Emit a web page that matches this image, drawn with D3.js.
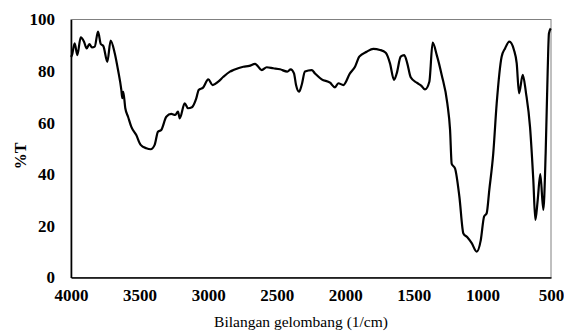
<!DOCTYPE html>
<html>
<head>
<meta charset="utf-8">
<script src="https://cdn.jsdelivr.net/npm/d3@7"></script>
<style>
  body { margin: 0; background: #fff; }
  svg { display: block; }
  svg text { font-family: "Liberation Serif", "Times New Roman", serif; fill: #000; }
</style>
</head>
<body>
<svg id="chart"></svg>
<script>
// FTIR spectrum
const wavenumber = [3999, 3993, 3973, 3954, 3929, 3905, 3886, 3866, 3847, 3827, 3803, 3783, 3764, 3735, 3711,
  3681, 3657, 3633, 3626, 3619, 3604, 3584, 3560, 3524, 3492, 3451, 3419, 3390, 3366, 3342, 3305, 3269,
  3240, 3220, 3207, 3171, 3147, 3118, 3086, 3069, 3037, 2999, 2967, 2926, 2889, 2841, 2816, 2744, 2700,
  2658, 2609, 2573, 2525, 2476, 2423, 2398, 2374, 2359, 2337, 2318, 2294, 2245, 2221, 2172, 2111, 2075,
  2051, 2014, 1966, 1929, 1898, 1844, 1796, 1747, 1705, 1674, 1645, 1625, 1596, 1570, 1548, 1523, 1479,
  1443, 1419, 1387, 1363, 1333, 1297, 1256, 1236, 1224, 1200, 1168, 1139, 1110, 1078, 1042, 1012, 988,
  969, 950, 921, 896, 860, 835, 804, 770, 750, 733, 706, 682, 653, 629, 614, 597, 578, 556, 539, 524, 515, 502];
const transmittance = [85.5, 86.2, 90.8, 86.2, 93.1, 91.4, 88.8, 90.5, 89.2, 89.5, 95.3, 90.5, 89.7, 83.6, 91.8,
  86.9, 80.4, 72.7, 69.5, 72.0, 65.6, 62.3, 58.4, 55.2, 51.4, 50.1, 49.7, 51.4, 56.5, 57.2, 62.3, 63.4,
  63.0, 64.3, 61.7, 67.5, 65.6, 66.0, 69.5, 72.7, 73.6, 76.8, 74.6, 75.9, 77.8, 79.8, 80.4, 81.7, 82.0,
  82.8, 80.4, 81.5, 81.1, 80.7, 79.8, 80.7, 79.1, 74.6, 72.0, 74.6, 79.8, 80.4, 79.1, 76.8, 75.5, 73.7,
  75.3, 74.6, 79.1, 81.7, 85.6, 87.5, 88.6, 88.2, 87.1, 83.0, 76.6, 79.1, 85.6, 86.2, 83.0, 77.6, 75.5,
  74.2, 72.9, 75.9, 91.0, 86.2, 78.5, 67.5, 57.2, 44.0, 42.3, 31.3, 17.1, 15.6, 13.3, 10.0, 14.5, 23.6,
  24.9, 33.9, 48.1, 67.5, 85.6, 88.8, 91.4, 88.2, 83.0, 71.4, 78.5, 71.4, 58.4, 37.8, 22.3, 30.0, 40.1, 26.2, 48.1, 80.4, 94.6, 96.6];
const xTicks = [4000, 3500, 3000, 2500, 2000, 1500, 1000, 500];
const yTicks = [0, 20, 40, 60, 80, 100];
const xTitle = "Bilangan gelombang (1/cm)";
const yTitle = "%T";

const W = 564, H = 332;
const m = { left: 71, right: 13, top: 19.5, bottom: 54.5 };

const svg = d3.select("#chart").attr("width", W).attr("height", H);

const x = d3.scaleLinear().domain([4000, 500]).range([m.left, W - m.right]);
const y = d3.scaleLinear().domain([0, 100]).range([H - m.bottom, m.top]);

// grey frame on top and right
svg.append("rect")
  .attr("x", x(4000)).attr("y", y(100))
  .attr("width", x(500) - x(4000)).attr("height", y(0) - y(100))
  .attr("fill", "none").attr("stroke", "#808080").attr("stroke-width", 1);

const xAxis = svg.append("g")
  .attr("transform", `translate(0,${y(0)})`)
  .call(d3.axisBottom(x).tickValues(xTicks).tickSize(0).tickPadding(11).tickFormat(d3.format("d")));
const yAxis = svg.append("g")
  .attr("transform", `translate(${x(4000)},0)`)
  .call(d3.axisLeft(y).tickValues(yTicks).tickSize(0).tickPadding(16));

[xAxis, yAxis].forEach(g => {
  g.attr("font-family", null);
  g.select(".domain").attr("stroke", "#000").attr("stroke-width", 1.6);
  g.selectAll("text").style("font-size", "17px").style("font-weight", "bold")
    .style("font-family", "'Liberation Serif', serif");
});

const data = wavenumber.map((w, i) => [w, transmittance[i]]);
svg.append("path")
  .datum(data)
  .attr("fill", "none")
  .attr("stroke", "#000")
  .attr("stroke-width", 2.2)
  .attr("stroke-linejoin", "round")
  .attr("d", d3.line().x(d => x(d[0])).y(d => y(d[1])).curve(d3.curveMonotoneX));

svg.append("text")
  .attr("x", 301).attr("y", 327)
  .attr("text-anchor", "middle").style("font-size", "15.5px").text(xTitle);

svg.append("text")
  .attr("transform", "translate(26,156) rotate(-90)")
  .attr("text-anchor", "middle").style("font-size", "16px").style("font-weight", "bold").text(yTitle);
</script>
</body>
</html>
